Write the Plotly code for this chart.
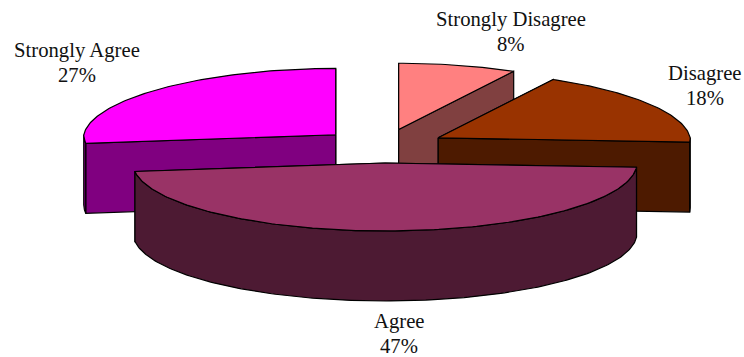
import math
import plotly.graph_objects as go

# Survey responses, in clockwise order from twelve o'clock
categories = ["Strongly Disagree", "Disagree", "Agree", "Strongly Agree"]
values = [8, 18, 47, 27]
top_colors = ["#FF8080", "#993300", "#993366", "#FF00FF"]
side_colors = ["#804040", "#4D1A00", "#4D1A33", "#800080"]
label_centers = [(510.5, 19), (704.5, 73), (399, 321), (76.5, 50)]
draw_order = [0, 1, 3, 2]

# Projection of the tilted, exploded pie onto the canvas
CX, CY = 383, 146
RX, RY = 252, 68
DEPTH = 70
EXPLODE = 0.25
# The far half of the disc shrinks slightly
PERSPECTIVE_X = 0.06
PERSPECTIVE_Y = 0.025
LINE_GAP = 25


def rim(center, deg):
    t = math.radians(deg)
    back = max(0.0, math.cos(t))
    return (center[0] + RX * (1 - PERSPECTIVE_X * back) * math.sin(t),
            center[1] - RY * (1 - PERSPECTIVE_Y * back) * math.cos(t))


def arc(center, a, b, step=1.0):
    n = max(2, int(abs(b - a) / step) + 1)
    return [rim(center, a + (b - a) * i / (n - 1)) for i in range(n)]


def polygon(points, color):
    xs = [p[0] for p in points] + [points[0][0]]
    ys = [p[1] for p in points] + [points[0][1]]
    return go.Scatter(x=xs, y=ys, mode="lines", fill="toself", fillcolor=color,
                      line=dict(color="black", width=1.2), hoverinfo="skip",
                      showlegend=False)


def down(p):
    return p[0], p[1] + DEPTH


total = sum(values)
spans = []
start = 0.0
for v in values:
    end = start + 360.0 * v / total
    spans.append((start, end))
    start = end

fig = go.Figure()
for i in draw_order:
    a, b = spans[i]
    mid = math.radians((a + b) / 2)
    apex = (CX + EXPLODE * RX * math.sin(mid), CY - EXPLODE * RY * math.cos(mid))

    # Cut faces, the one lower on the canvas painted last
    cuts = sorted((a, b), key=lambda d: rim(apex, d)[1])
    for deg in cuts:
        p = rim(apex, deg)
        fig.add_trace(polygon([apex, p, down(p), down(apex)], side_colors[i]))

    # Outer wall on the front half of the ellipse only
    lo, hi = max(a, 90.0), min(b, 270.0)
    if hi > lo:
        edge = arc(apex, lo, hi)
        fig.add_trace(polygon(edge + [down(p) for p in reversed(edge)], side_colors[i]))

    # Top face
    fig.add_trace(polygon([apex] + arc(apex, a, b), top_colors[i]))

annotations = []
for name, v, (lx, ly) in zip(categories, values, label_centers):
    for k, line in enumerate([name, f"{v}%"]):
        annotations.append(dict(x=lx, y=ly + k * LINE_GAP, text=line, showarrow=False,
                                xanchor="center", yanchor="middle",
                                font=dict(family="Liberation Serif", size=20.7, color="#111111")))

fig.update_layout(
    width=744, height=357, margin=dict(l=0, r=0, t=0, b=0),
    paper_bgcolor="white", plot_bgcolor="white", showlegend=False,
    xaxis=dict(range=[0, 744], visible=False, fixedrange=True),
    yaxis=dict(range=[357, 0], visible=False, fixedrange=True),
    annotations=annotations,
)
fig.write_html("out.html", config=dict(displayModeBar=False))
